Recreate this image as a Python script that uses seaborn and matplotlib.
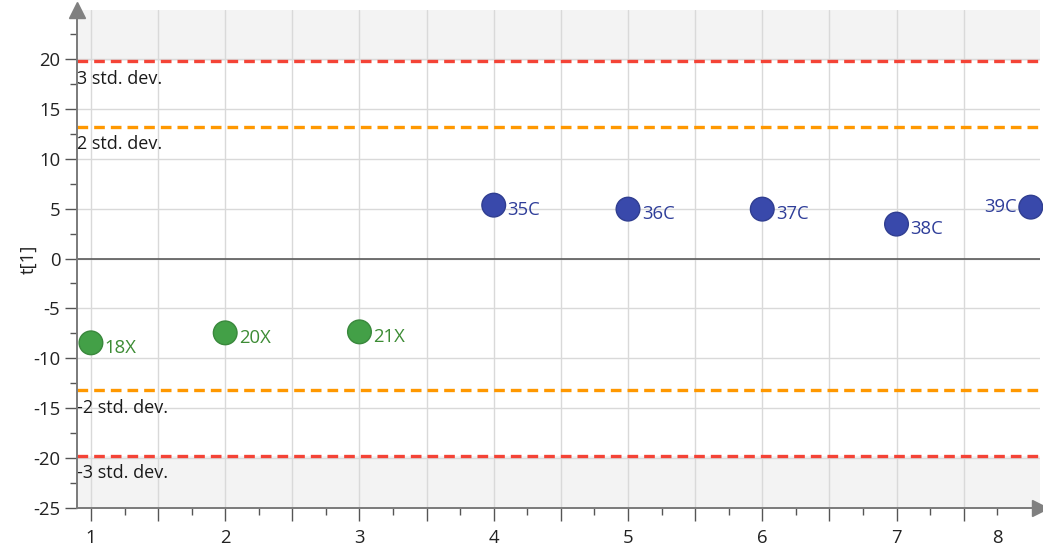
import numpy as np
import pandas as pd
import seaborn as sns
import matplotlib.pyplot as plt
from matplotlib.ticker import MultipleLocator

# Scores per observation
obs_index = [1, 2, 3, 4, 5, 6, 7, 8]
obs_names = ["18X", "20X", "21X", "35C", "36C", "37C", "38C", "39C"]
t1_scores = [-8.45, -7.45, -7.35, 5.35, 4.95, 4.95, 3.45, 5.15]
groups = ["X", "X", "X", "C", "C", "C", "C", "C"]

# Control limits
std2_limit = 13.2
std3_limit = 19.75

# Axis tick labels
x_extra_tick = 7.75
x_extra_label = "8"

group_colors = {"X": "#43a047", "C": "#3949ab"}
label_colors = {"X": "#3d8c35", "C": "#2e3d99"}

sns.set_theme(style="white")
plt.rcParams["font.family"] = ["Open Sans", "DejaVu Sans"]
plt.rcParams["axes.unicode_minus"] = False

FS = 13.3

df = pd.DataFrame({"obs": obs_index, "name": obs_names, "t1": t1_scores, "group": groups})

fig = plt.figure(figsize=(10.43, 5.49), dpi=100)
ax = fig.add_axes([0.0738, 0.0747, 0.9235, 0.907])

ax.set_xlim(0.896, 8.07)
ax.set_ylim(-25, 24.9)

# Shaded regions beyond 3 std. dev.
ax.axhspan(std3_limit, 30, color="#f3f3f3", zorder=0, lw=0)
ax.axhspan(-30, -std3_limit, color="#f3f3f3", zorder=0, lw=0)

# Grid
for xv in np.arange(1.0, 7.51, 0.5):
    ax.axvline(xv, color="#d9d9d9", lw=1, zorder=1)
for yv in np.arange(-20, 21, 5):
    ax.axhline(yv, color="#d9d9d9", lw=1, zorder=1)
ax.axhline(0, color="#5a5a5a", lw=1.2, zorder=2)

# Limit lines
for val, col in [(std3_limit, "#f44336"), (-std3_limit, "#f44336"),
                 (std2_limit, "#ff9800"), (-std2_limit, "#ff9800")]:
    ax.axhline(val, color=col, lw=2.4, ls=(0, (3.2, 1.8)), zorder=3)

lim_text = [(std3_limit, "3 std. dev."), (std2_limit, "2 std. dev."),
            (-std2_limit, "-2 std. dev."), (-std3_limit, "-3 std. dev.")]
for val, txt in lim_text:
    ax.text(0.899, val - 1.75, txt, ha="left", va="center", fontsize=FS - 0.3,
            color="#1a1a1a", zorder=4)

sns.scatterplot(data=df, x="obs", y="t1", hue="group", palette=group_colors,
                s=290, legend=False, ax=ax, zorder=5, clip_on=False)
for coll in ax.collections:
    fc = coll.get_facecolors()
    coll.set_edgecolors([tuple(np.clip(np.array(c[:3]) * 0.85, 0, 1)) + (1,) for c in fc])
    coll.set_linewidth(1.0)

for _, row in df.iterrows():
    col = label_colors[row["group"]]
    if row["obs"] == max(obs_index):
        ax.annotate(row["name"], (row["obs"], row["t1"]), xytext=(-10, 0),
                    textcoords="offset points", ha="right", va="center",
                    fontsize=FS, color=col, zorder=6)
    else:
        ax.annotate(row["name"], (row["obs"], row["t1"]), xytext=(10, -3.5),
                    textcoords="offset points", ha="left", va="center",
                    fontsize=FS, color=col, zorder=6)

# Axes styling
for side in ["top", "right"]:
    ax.spines[side].set_visible(False)
for side in ["left", "bottom"]:
    ax.spines[side].set_color("#7a7a7a")
    ax.spines[side].set_linewidth(1.4)
    ax.spines[side].set_zorder(7)

ax.set_yticks(np.arange(-25, 21, 5))
ax.yaxis.set_minor_locator(MultipleLocator(2.5))
major_x = np.arange(1.0, 8.0, 0.5)
ax.set_xticks(major_x,
              labels=[str(int(v)) if float(v).is_integer() else "" for v in major_x])
minor_pos = list(np.arange(1.25, 8.0, 0.5))
ax.set_xticks(minor_pos,
              labels=[x_extra_label if abs(p - x_extra_tick) < 1e-6 else "" for p in minor_pos],
              minor=True)

ax.tick_params(axis="both", which="both", bottom=True, left=True, direction="out",
               width=1, color="#555555", labelsize=FS, labelcolor="#222222")
ax.tick_params(axis="y", which="major", length=9, pad=3)
ax.tick_params(axis="y", which="minor", length=5)
ax.tick_params(axis="x", which="major", length=9, pad=6)
ax.tick_params(axis="x", which="minor", length=5, pad=10)

ax.set_xlabel("")
ax.set_ylabel("t[1]", fontsize=FS, color="#222222")
ax.yaxis.set_label_coords(-0.0405, 0.5)

# Arrow heads at the ends of the axes
ax.plot([0], [1.0], marker="^", markersize=11, color="#808080", transform=ax.transAxes,
        clip_on=False, zorder=8)
ax.plot([1.0], [0], marker=">", markersize=11, color="#808080", transform=ax.transAxes,
        clip_on=False, zorder=8)

fig.savefig("out.png", dpi=100)
